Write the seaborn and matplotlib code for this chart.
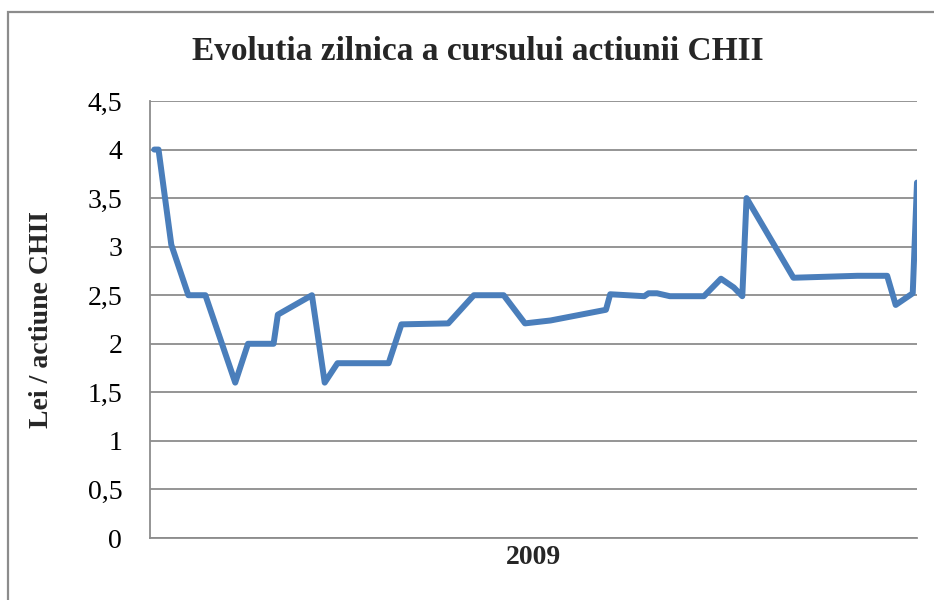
import matplotlib
matplotlib.use('Agg')
import matplotlib.pyplot as plt
import matplotlib.patches as mpatches
from matplotlib.ticker import FuncFormatter
import seaborn as sns
import pandas as pd

# zile de tranzactionare (index aproximativ) si pretul actiunii CHII
zile = [1, 2, 5, 9, 13, 20, 23, 29, 30, 38, 41, 44, 56, 59, 70, 76, 83, 88, 94,
        107, 108, 116, 117, 119, 122, 130, 134, 137, 139, 140, 151, 166, 173,
        175, 179, 180]
pret = [4.0, 4.0, 3.02, 2.5, 2.5, 1.6, 2.0, 2.0, 2.3, 2.5, 1.6, 1.8, 1.8, 2.2,
        2.21, 2.5, 2.5, 2.21, 2.24, 2.35, 2.51, 2.49, 2.52, 2.52, 2.49, 2.49,
        2.67, 2.58, 2.49, 3.5, 2.68, 2.70, 2.70, 2.40, 2.52, 3.66]
y_ticks = [0, 0.5, 1, 1.5, 2, 2.5, 3, 3.5, 4, 4.5]

df = pd.DataFrame({'zi': zile, 'pret': pret})

sns.set_style('white')
plt.rcParams['font.family'] = ['Liberation Serif', 'DejaVu Serif']

fig = plt.figure(figsize=(9.34, 6), dpi=100)
ax = fig.add_axes([150 / 934, 62 / 600, 767 / 934, 437 / 600])

# chenarul exterior al graficului
fig.patches.append(mpatches.Rectangle((8 / 934, -0.1), 1.2, (588 / 600) + 0.1,
                                      transform=fig.transFigure, fill=False,
                                      edgecolor='#8c8c8c', linewidth=1.6))

sns.lineplot(data=df, x='zi', y='pret', ax=ax, color='#4a7ebb', linewidth=4.3,
             solid_joinstyle='round', solid_capstyle='round')

ax.set_xlim(0, 180)
ax.set_ylim(0, 4.5)
ax.set_yticks(y_ticks)
ax.yaxis.set_major_formatter(FuncFormatter(lambda v, p: f'{v:g}'.replace('.', ',')))
ax.set_xticks([])
ax.grid(axis='y', color='#8c8c8c', linewidth=1.3)
ax.set_axisbelow(True)
for side in ['top', 'right']:
    ax.spines[side].set_visible(False)
for side in ['left', 'bottom']:
    ax.spines[side].set_color('#8c8c8c')
    ax.spines[side].set_linewidth(1.3)
ax.tick_params(axis='y', length=6, width=1.3, color='#8c8c8c', labelsize=20,
               labelcolor='black', pad=14)

ax.set_xlabel('2009', fontsize=20, fontweight='bold', labelpad=5)
ax.set_ylabel('Lei / actiune CHII', fontsize=20, fontweight='bold', labelpad=24)
fig.text(478 / 934, 1 - 51 / 600, 'Evolutia zilnica a cursului actiunii CHII',
         ha='center', va='center', fontsize=24, fontweight='bold')

plt.savefig('out.png', dpi=100)
plt.close()
